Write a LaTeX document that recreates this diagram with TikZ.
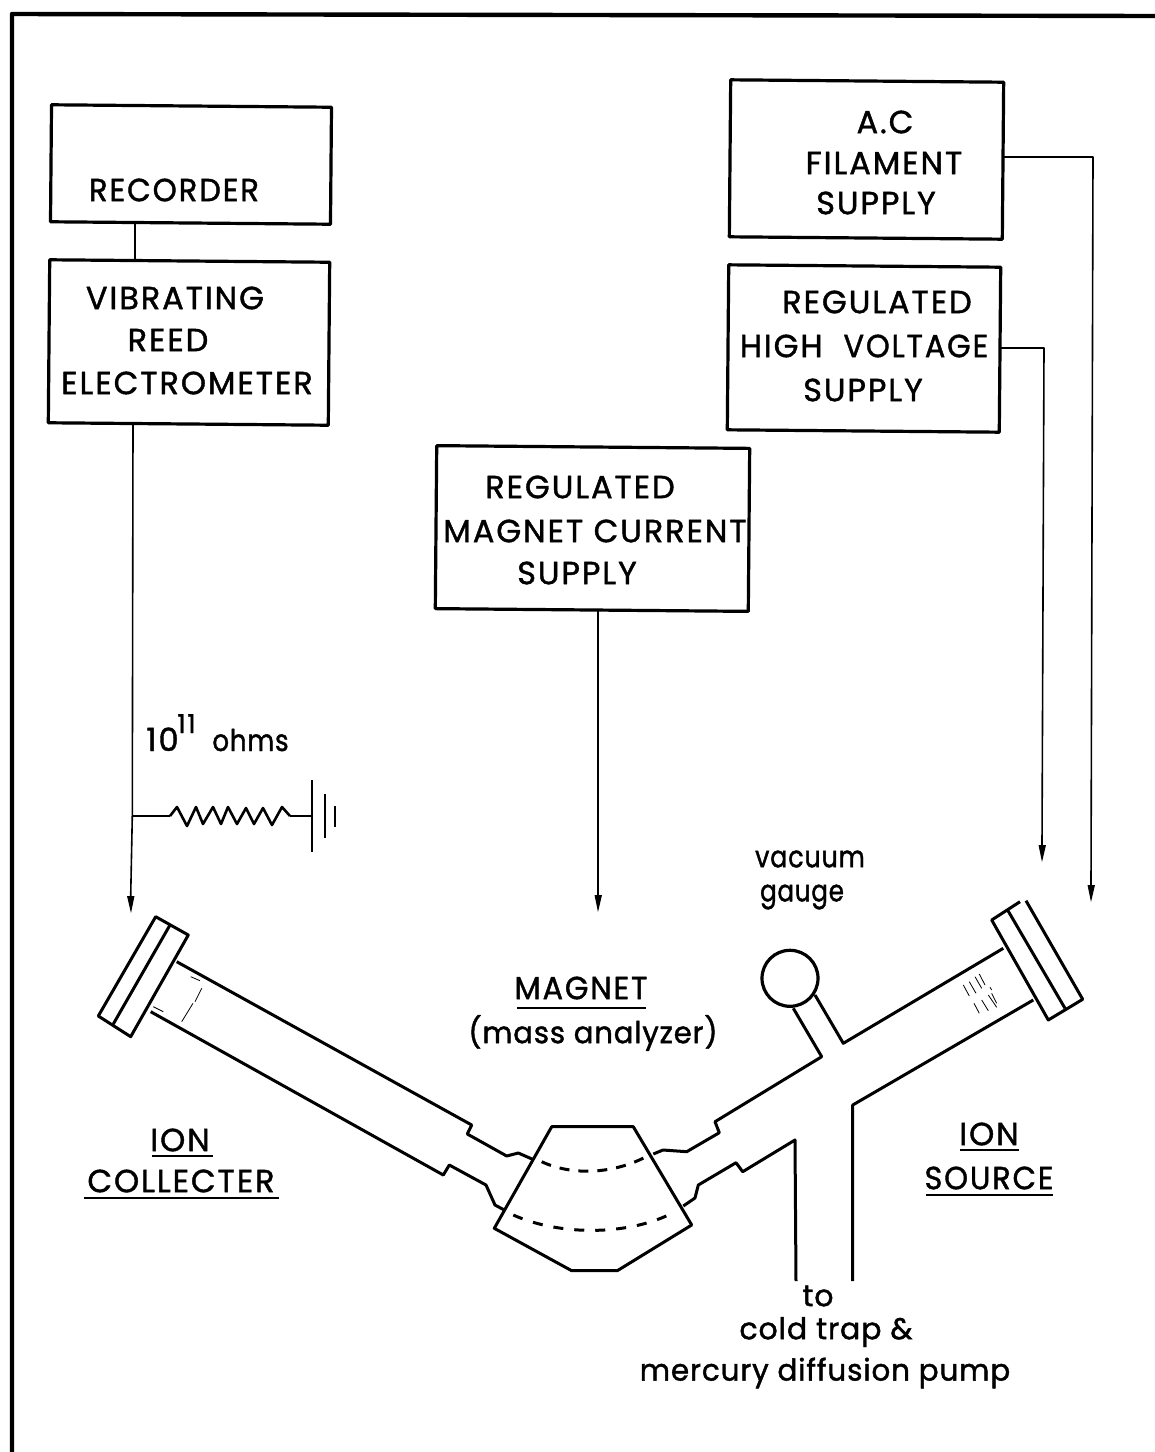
\documentclass[tikz,border=0pt]{standalone}
\usepackage{fontspec}
\setmainfont[LetterSpace=6,FakeBold=1.3]{Poppins}
\newfontfamily\lowfont[LetterSpace=3,FakeBold=1.5]{Poppins}
\begin{document}
\begin{tikzpicture}[x=0.5pt,y=-0.5pt,
  line join=round,
  frameline/.style={line width=2.2pt},
  boxline/.style={draw,line width=1.6pt,rotate=-0.5,inner sep=0pt},
  wire/.style={line width=0.8pt},
  tube/.style={line width=1.5pt},
  fine/.style={line width=0.4pt},
  tipdrop/.style={fill=black,draw=none},
  lab/.style={font=\fontsize{16}{18}\selectfont,align=center,inner sep=0pt,anchor=center},
  low/.style={font=\lowfont\fontsize{15}{18}\selectfont,align=center,inner sep=0pt,anchor=center},
  uline/.style={line width=1.3pt}]
\useasboundingbox (0,0) rectangle (1155,1452);
% frame
\draw[frameline] (12,1452) -- (12,14) -- (1155,16);
% boxes
\node[boxline,minimum width=140pt,minimum height=58.5pt] (rec) at (191,164.5) {};
\node[boxline,minimum width=140pt,minimum height=81.5pt] (vib) at (189,342.5) {};
\node[boxline,minimum width=136.5pt,minimum height=78.5pt] (ac) at (866.5,159.5) {};
\node[boxline,minimum width=136pt,minimum height=82.5pt] (hv) at (864,348.5) {};
\node[boxline,minimum width=156.5pt,minimum height=81.5pt] (mag) at (592.5,528.5) {};
% box texts
\node[lab] (t1) at (174,190) {\scalebox{0.96}[1]{RECORDER}};
\node[lab] (t2a) at (175,298) {VIBRATING};
\node[lab] (t2b) at (168,340) {REED};
\node[lab] (t2c) at (187,383) {ELECTROMETER};
\node[lab] (t3a) at (885,122) {A.C};
\node[lab] (t3b) at (884,163) {FILAMENT};
\node[lab] (t3c) at (876,203) {SUPPLY};
\node[lab] (t4a) at (877,302) {REGULATED};
\node[lab] (t4b) at (864,346) {HIGH\ \ \scalebox{0.95}[1]{VOLTAGE}};
\node[lab] (t4c) at (863,390) {SUPPLY};
\node[lab] (t5a) at (580,487) {REGULATED};
\node[lab] (t5b) at (595,531) {MAGNET CURRENT};
\node[lab] (t5c) at (577,573) {SUPPLY};
% connectors
\coordinate (recb) at (135,223);
\coordinate (vibt) at (135,261);
\draw[wire] (recb) -- (vibt);
\coordinate (vibb) at (133,424);
\coordinate (junc) at (132.3,816);
\coordinate (coll) at (130.7,896);
\draw[wire] (vibb) -- (junc) -- (coll);
\fill[tipdrop] (127,896) -- (134.5,896) -- (131,913) -- cycle;
\coordinate (magb) at (598,610);
\coordinate (magt) at (598,895);
\draw[wire] (magb) -- (magt);
\fill[tipdrop] (594.5,895) -- (602,895) -- (598,912) -- cycle;
\coordinate (acr) at (1003,157);
\coordinate (ace) at (1091,885);
\draw[wire] (acr) -- (1093,157) -- (ace);
\fill[tipdrop] (1087.5,885) -- (1095,885) -- (1091,902) -- cycle;
\coordinate (hvr) at (1000,348);
\coordinate (hve) at (1042,845);
\draw[wire] (hvr) -- (1044,348) -- (hve);
\fill[tipdrop] (1038.5,845) -- (1046,845) -- (1042,862) -- cycle;
% resistor and ground
\coordinate (gnd) at (311.7,816);
\draw[wire] (junc) -- (170,816);
\draw[line width=1.3pt] (170,816) -- (177,807) -- (187,826) -- (196,807) -- (203,824) -- (213,807) -- (221,824) -- (228,807) -- (237,824) -- (246,808) -- (254,824) -- (263,808) -- (272,825) -- (282,807) -- (290,816);
\draw[wire] (290,816) -- (gnd);
\draw[wire] (311.7,780) -- (311.7,852);
\draw[line width=1pt] (325,794) -- (325,838);
\draw[line width=1.3pt] (335,806) -- (335,827);
\node[lab,anchor=base west] (ohm) at (146,751) {10};
\node[font=\fontsize{13}{14}\selectfont,inner sep=0pt,anchor=base west] (ohm2) at (177,733) {11};
\node[low,anchor=base west] (ohm3) at (212,751) {\scalebox{0.87}[1]{ohms}};
% collector
\draw[tube] (155.7,916.7) -- (188.3,935) -- (130.7,1036.7) -- (98.3,1016) -- cycle;
\draw[tube] (170,925) -- (113.3,1024);
\draw[tube] (176.7,961.7) -- (471.7,1125) -- (467.3,1134) -- (506.7,1156) -- (518.3,1153) -- (532.7,1159.3);
\draw[tube] (150.7,1011.7) -- (443.3,1175) -- (449.3,1165) -- (486,1185) -- (495,1205) -- (504.3,1210);
\draw[fine] (190.7,976.7) -- (200,980.7) (201.7,988.3) -- (195,1001.7) (193,1003.3) -- (181.7,1021.7) (153.3,1006.7) -- (163.3,1011.7);
% magnet
\draw[tube] (551.7,1126.7) -- (633.3,1126.7) -- (691.7,1225) -- (617.3,1270.7) -- (571.7,1270.7) -- (494.3,1228.3) -- cycle;
\draw[tube,dash pattern=on 5pt off 4.5pt] (541.7,1161.7) .. controls (570,1175) and (610,1175) .. (645,1157.3);
\draw[tube,dash pattern=on 5pt off 5.5pt] (513.3,1215) .. controls (560,1236) and (630,1236) .. (675,1211.7);
% source
\draw[tube] (653.3,1154) -- (663,1150) -- (686.7,1151.7) -- (719.3,1132.7) -- (715,1121.7) -- (821.7,1056.7) -- (793.3,1008.3);
\draw[tube] (815,995) -- (843.3,1043.3) -- (1003.3,948.3);
\draw[tube] (683.3,1206) -- (695,1198) -- (698.3,1185) -- (736,1162.7) -- (742.7,1171.7) -- (795,1140) -- (796,1281);
\draw[tube] (852.7,1281) -- (852.7,1105) -- (1033.3,1000);
\node[draw,circle,line width=1.6pt,minimum size=28pt,inner sep=0pt] (gauge) at (790,978.3) {};
\draw[tube] (1020,901.7) -- (991.7,920) -- (1048.3,1020) -- (1082.7,999.3) -- (1026,900.7);
\draw[tube] (1008,910.7) -- (1065,1008.3);
\draw[fine] (963.3,985) -- (969.3,996) (969.3,981.7) -- (976,993.3) (975,976.7) -- (981.7,988.3) (979.3,974) -- (985,985);
\draw[fine] (990,987.3) -- (991.7,990);
\draw[fine] (974,1003.3) -- (979.3,1013.3) (981.7,1000) -- (988.3,1010.7) (988.3,995) -- (996.7,1007.3) (991.7,993.3) -- (996.7,1003.3);
% labels
\node[low] (g1) at (810,859) {\scalebox{0.85}[1]{vacuum}};
\node[low] (g2) at (802,897) {\scalebox{0.82}[1]{gauge}};
\node[lab] (m1) at (581,988) {\scalebox{0.95}[1]{MAGNET}};
\draw[uline] (517,1008) -- (646,1008);
\node[low] (m2) at (593,1033) {\scalebox{0.97}[1]{(mass analyzer)}};
\node[lab] (c1) at (180,1140) {ION};
\draw[uline] (152,1156) -- (213,1156);
\node[lab] (c2) at (181,1181) {COLLECTER};
\draw[uline] (84,1198) -- (279,1198);
\node[lab] (s1) at (989,1134) {ION};
\draw[uline] (960,1150) -- (1019,1150);
\node[lab] (s2) at (989,1178) {\scalebox{0.95}[1]{SOURCE}};
\draw[uline] (926,1195) -- (1053,1195);
\node[low] (p1) at (818,1296) {to};
\node[low] (p2) at (826,1332) {cold trap \&};
\node[low] (p3) at (825,1373) {\scalebox{0.98}[1]{mercury diffusion pump}};
\end{tikzpicture}
\end{document}
